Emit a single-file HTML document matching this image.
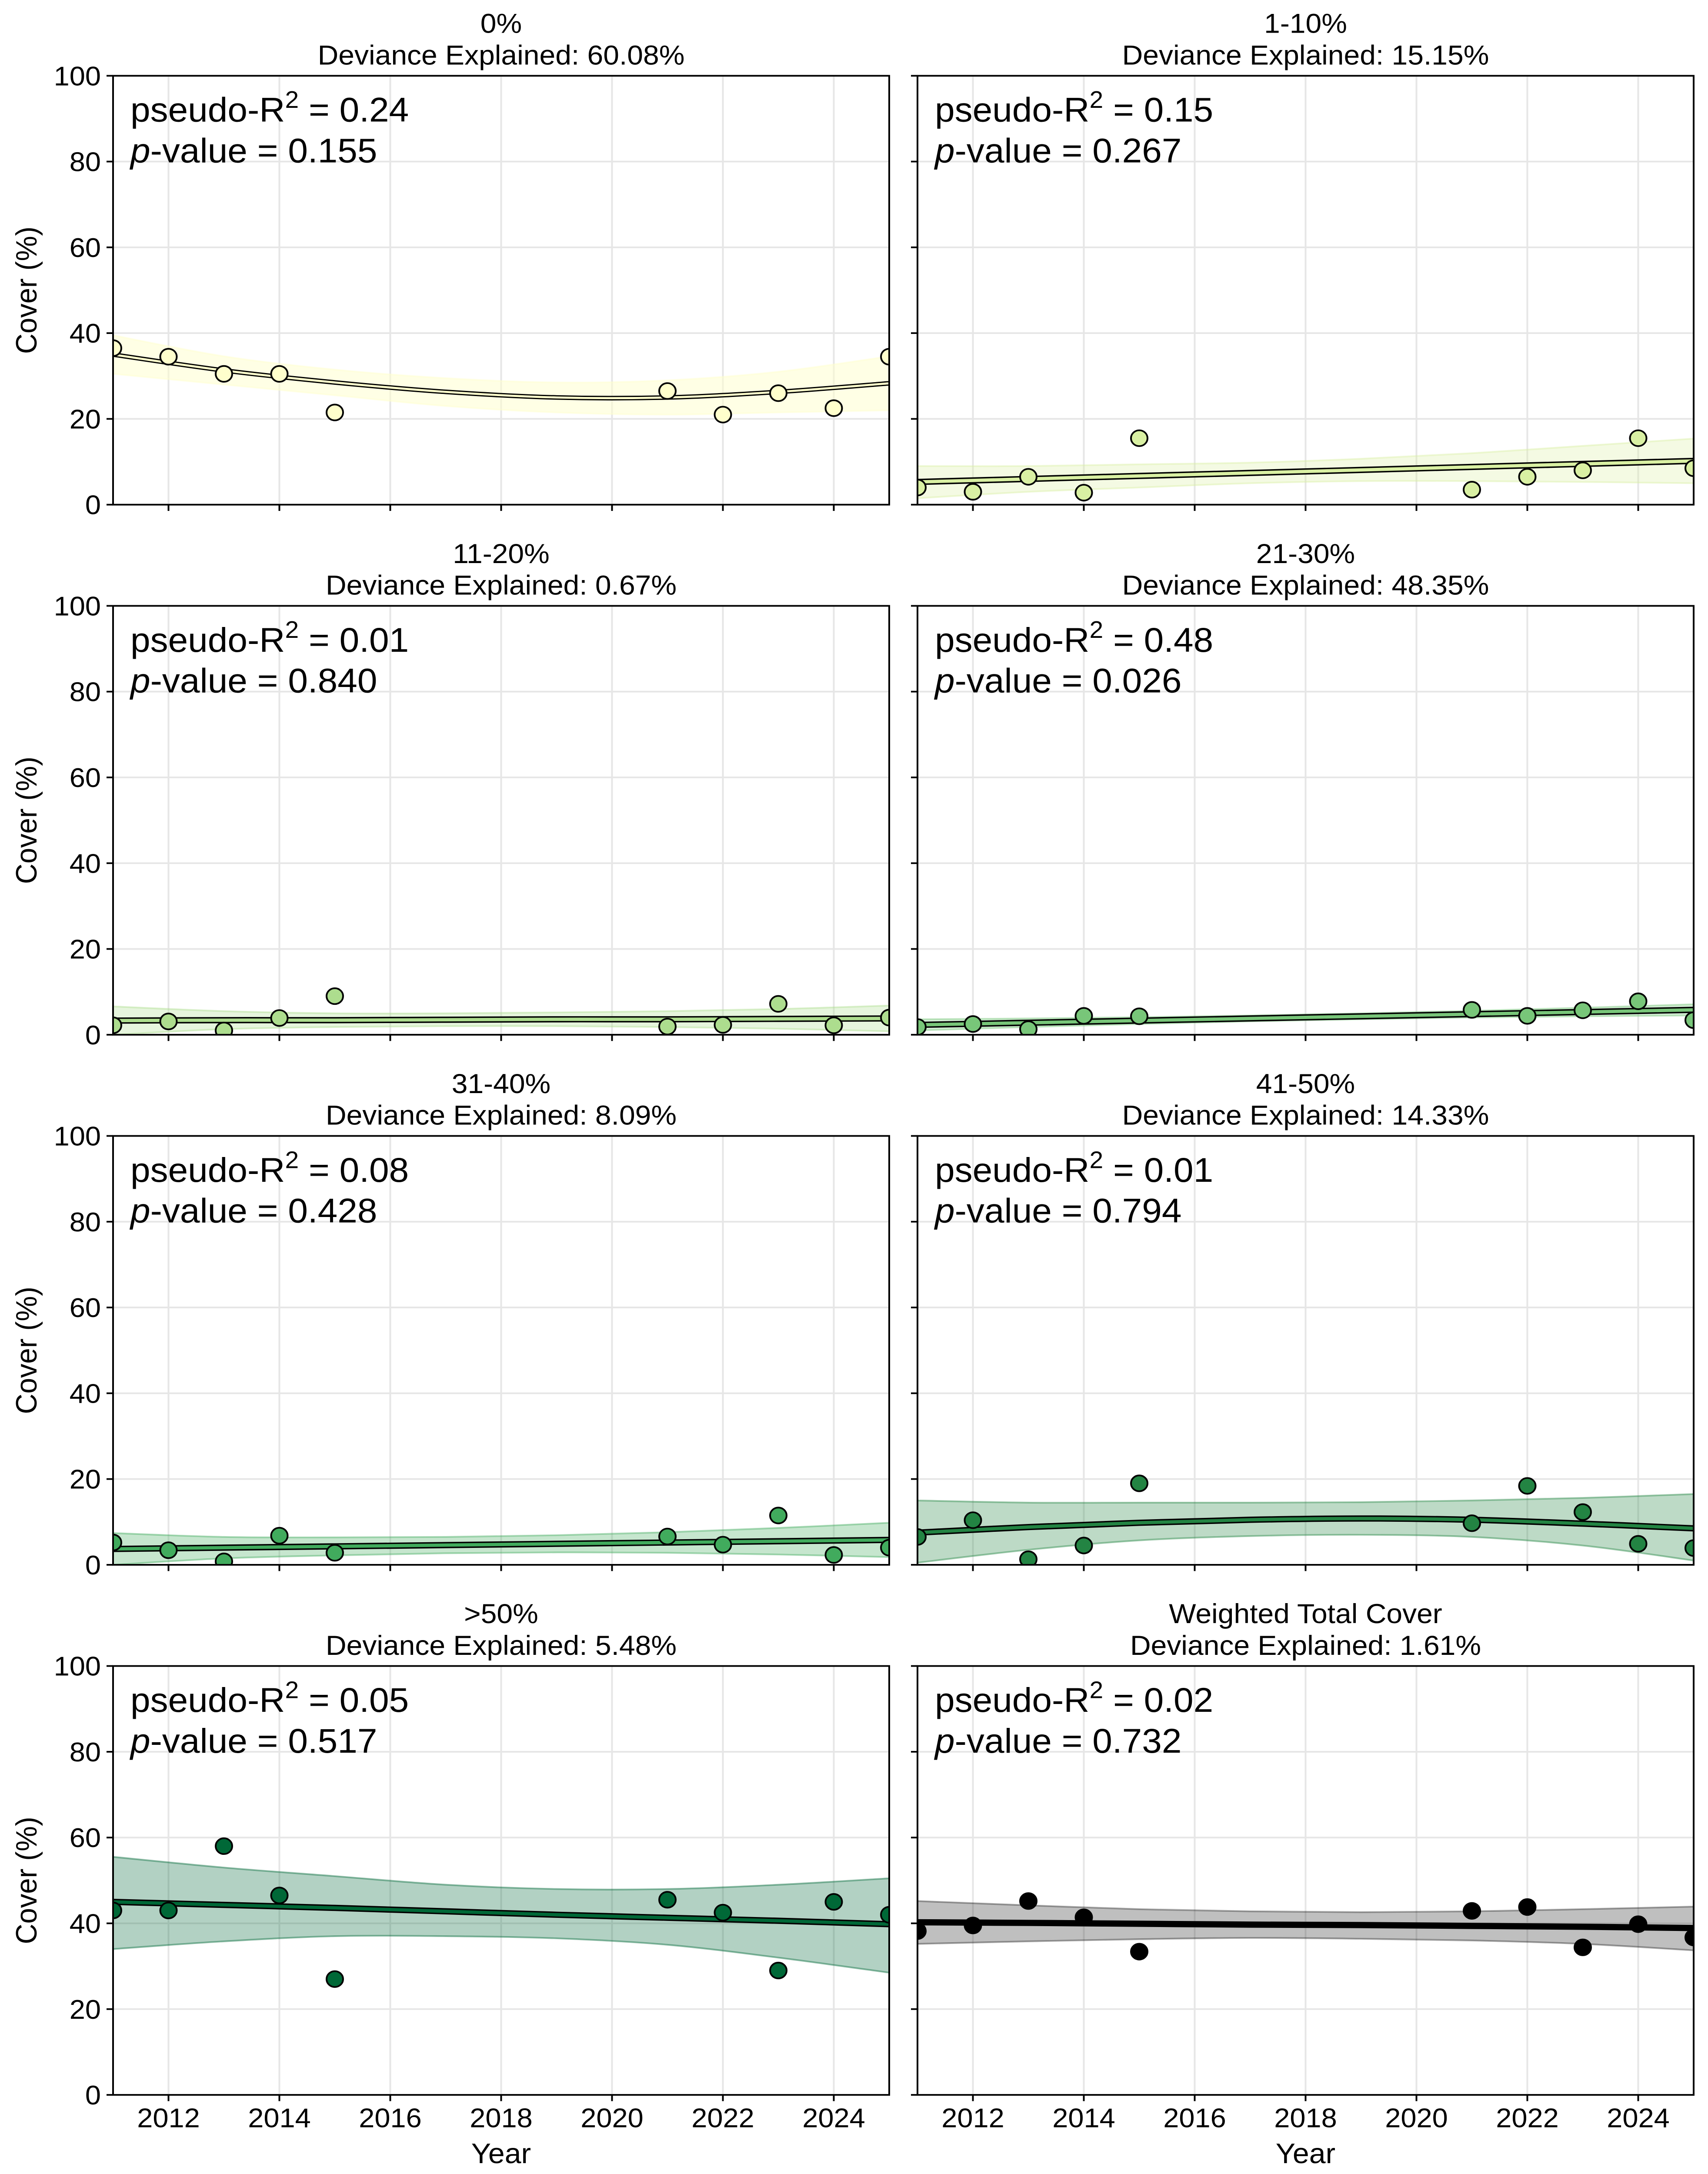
<!DOCTYPE html>
<html><head><meta charset="utf-8"><style>
html,body{margin:0;padding:0;background:#fff;overflow:hidden}
svg{display:block;width:100vw;height:100vh}
svg text{font-family:"Liberation Sans",Arial,sans-serif;fill:#000}
</style></head><body>
<svg id="fig" xmlns="http://www.w3.org/2000/svg" viewBox="0 0 3928 5221" preserveAspectRatio="none"></svg>
<script>
const pointYears = [2011,2012,2013,2014,2015,2021,2022,2023,2024,2025];
const fitYears = [2011,2013,2015,2017,2019,2021,2023,2025];
const xTicks = [2012,2014,2016,2018,2020,2022,2024];
const yTicks = [0,20,40,60,80,100];
const panelTitles = ["0%","1-10%","11-20%","21-30%","31-40%","41-50%",">50%","Weighted Total Cover"];
const devExplained = ["60.08%","15.15%","0.67%","48.35%","8.09%","14.33%","5.48%","1.61%"];
const pseudoR2 = ["0.24","0.15","0.01","0.48","0.08","0.01","0.05","0.02"];
const pValues = ["0.155","0.267","0.840","0.026","0.428","0.794","0.517","0.732"];
const colors = ["#ffffcc","#d9f0a3","#addd8e","#78c679","#41ab5d","#238443","#006837","#000000"];
const pts0 = [36.5,34.5,30.5,30.5,21.5,26.5,21,26,22.5,34.5];
const pts1 = [4,3,6.5,2.8,15.5,3.5,6.5,8,15.5,8.5];
const pts2 = [2.2,3.1,1.0,3.9,9.0,1.9,2.3,7.2,2.2,4.0];
const pts3 = [1.8,2.5,1.3,4.4,4.3,5.8,4.4,5.7,7.8,3.4];
const pts4 = [5.2,3.4,0.8,6.8,2.8,6.6,4.7,11.5,2.3,4.0];
const pts5 = [6.5,10.4,1.3,4.5,19,9.7,18.4,12.3,4.9,3.9];
const pts6 = [43,43,58,46.5,27,45.5,42.5,29,45,42];
const pts7 = [38.2,39.5,45.2,41.4,33.4,42.9,43.8,34.4,39.8,36.7];
const fit0 = [35,31.3,28.5,26.3,25,25,26.3,28.3];
const lo0 = [30.5,28,25.5,23,21.5,21,21.5,22];
const hi0 = [39.5,34.6,31.5,29.5,28.5,29,31,34.6];
const fit1 = [5.3,6,6.7,7.4,8.1,8.8,9.5,10.2];
const lo1 = [1.5,3,4,5,5.5,5.5,5.3,5];
const hi1 = [9,9,9.4,9.8,10.7,12,13.7,15.4];
const fit2 = [3.3,3.4,3.4,3.5,3.6,3.6,3.7,3.8];
const lo2 = [0,1.3,1.8,2,2,1.8,1.4,0.8];
const hi2 = [6.6,5.5,5,5,5.2,5.5,6,6.8];
const fit3 = [2.3,2.8,3.3,3.8,4.3,4.8,5.3,5.8];
const lo3 = [1,1.8,2.5,3.1,3.6,4,4.3,4.5];
const hi3 = [3.6,3.8,4.1,4.5,5,5.6,6.3,7.1];
const fit4 = [3.7,4,4.3,4.6,4.9,5.2,5.5,5.8];
const lo4 = [0,1.5,2.2,2.7,2.9,2.8,2.4,1.8];
const hi4 = [7.4,6.5,6.4,6.5,6.9,7.6,8.6,9.8];
const fit5 = [7.5,8.8,9.8,10.5,10.8,10.5,9.6,8.5];
const lo5 = [0.5,3.5,5.7,6.7,7,6.5,4.5,1];
const hi5 = [15,14.5,14.5,14.5,14.6,15,15.6,16.5];
const fit6 = [45,44.3,43.6,42.8,42,41.3,40.6,39.8];
const lo6 = [34,35.8,37,37,36.5,35,32,28.5];
const hi6 = [55.5,53,51,49,48,48,49,50.5];
const fit7 = [40.25,40.1,39.9,39.7,39.6,39.4,39.2,38.9];
const lo7 = [35.2,35.8,36.3,36.6,36.4,36,35.2,33.7];
const hi7 = [45.2,44.2,43.3,42.8,42.6,42.8,43.3,43.9];
const allPts=[pts0,pts1,pts2,pts3,pts4,pts5,pts6,pts7];
const allFit=[fit0,fit1,fit2,fit3,fit4,fit5,fit6,fit7];
const allLo=[lo0,lo1,lo2,lo3,lo4,lo5,lo6,lo7];
const allHi=[hi0,hi1,hi2,hi3,hi4,hi5,hi6,hi7];

const NS="http://www.w3.org/2000/svg";
const svg=document.getElementById('fig');
function mk(tag,attrs,parent){const e=document.createElementNS(NS,tag);for(const k in attrs)e.setAttribute(k,attrs[k]);(parent||svg).appendChild(e);return e;}
const colX=[260,2110], rowY=[182,1455,2728,4001], W=1785, H=1030;
function smooth(p){let d="M"+p[0][0]+","+p[0][1];for(let i=0;i<p.length-1;i++){const a=p[i-1]||p[i],b=p[i],c=p[i+1],e=p[i+2]||c;
d+=" C"+(b[0]+(c[0]-a[0])/6)+","+(b[1]+(c[1]-a[1])/6)+" "+(c[0]-(e[0]-b[0])/6)+","+(c[1]-(e[1]-b[1])/6)+" "+c[0]+","+c[1];}return d;}

for(let k=0;k<8;k++){
  const c=k%2,r=Math.floor(k/2),x0=colX[c],y0=rowY[r];
  const sx=v=>x0+(v-2011)/(2025-2011)*W;
  const sy=v=>y0+H-(v/100)*H;
  const g=mk('g',{});
  
  
  const cp=mk('clipPath',{id:'clip'+k},g);mk('rect',{x:x0,y:y0,width:W,height:H},cp);
  yTicks.forEach(t=>{const l=mk('line',{x1:x0,x2:x0+W,y1:sy(t),y2:sy(t),stroke:'#e6e6e6','stroke-width':4},g);});
  xTicks.forEach(t=>{const l=mk('line',{x1:sx(t),x2:sx(t),y1:y0,y2:y0+H,stroke:'#e6e6e6','stroke-width':4},g);});
  const cg=mk('g',{'clip-path':'url(#clip'+k+')'},g);
  const fit=allFit[k],lo=allLo[k],hi=allHi[k],col=colors[k];
  const up=fitYears.map((y,i)=>[sx(y),sy(hi[i])]), dn=fitYears.map((y,i)=>[sx(y),sy(lo[i])]).reverse();
  const bandD=smooth(up)+" L"+dn[0][0]+","+dn[0][1]+smooth(dn).replace(/^M[^ ]+/,"")+" Z";
  const band=mk('path',{d:bandD,fill:col,'fill-opacity':k==7?0.25:(k==0?0.5:0.3),stroke:col,'stroke-opacity':k==7?0.35:0.45,'stroke-width':4},cg);
  
  
  const fd=smooth(fitYears.map((y,i)=>[sx(y),sy(fit[i])]));
  const fo=mk('path',{d:fd,fill:'none',stroke:'#000','stroke-width':k==0?11:15},cg);
  
  
  const fl=mk('path',{d:fd,fill:'none',stroke:col,'stroke-width':k==0?5:8},cg);
  
  
  allPts[k].forEach((v,i)=>{const p=mk('circle',{cx:sx(pointYears[i]),cy:sy(v),r:19,fill:col,stroke:'#000','stroke-width':4},cg);
    
    });
  const fr=mk('rect',{x:x0,y:y0,width:W,height:H,fill:'none',stroke:'#000','stroke-width':4},g);
  
  
  yTicks.forEach(t=>{mk('line',{x1:x0-15,x2:x0,y1:sy(t),y2:sy(t),stroke:'#000','stroke-width':4},g);
    if(c==0){const tl=mk('text',{x:x0-28,y:sy(t)+23,'font-size':65,'text-anchor':'end'},g);tl.textContent=t;
      
      }});
  xTicks.forEach(t=>{mk('line',{x1:sx(t),x2:sx(t),y1:y0+H,y2:y0+H+15,stroke:'#000','stroke-width':4},g);
    if(r==3){const tl=mk('text',{x:sx(t),y:y0+H+78,'font-size':65,'text-anchor':'middle'},g);tl.textContent=t;
      
      }});
  const t1=mk('text',{x:x0+W/2,y:y0-103,'font-size':66,'text-anchor':'middle'},g);t1.textContent=panelTitles[k];
  
  
  const t2=mk('text',{x:x0+W/2,y:y0-27,'font-size':66,'text-anchor':'middle'},g);t2.textContent="Deviance Explained: "+devExplained[k];
  
  
  const a1=mk('text',{x:x0+40,y:y0+110,'font-size':82},g);
  
  
  a1.innerHTML='pseudo-R<tspan dy="-33" font-size="57">2</tspan><tspan dy="33"> = '+pseudoR2[k]+'</tspan>';
  const a2=mk('text',{x:x0+40,y:y0+208,'font-size':82},g);
  
  
  a2.innerHTML='<tspan font-style="italic">p</tspan>-value = '+pValues[k];
  if(c==0){const yl=mk('text',{x:0,y:0,'font-size':68,'text-anchor':'middle',transform:'translate(84,'+(y0+H/2)+') rotate(-90)'},g);yl.textContent='Cover (%)';
    
    }
  if(r==3){const xl=mk('text',{x:x0+W/2,y:5195,'font-size':68,'text-anchor':'middle'},g);xl.textContent='Year';
    
    }
}
</script>
</body></html>
